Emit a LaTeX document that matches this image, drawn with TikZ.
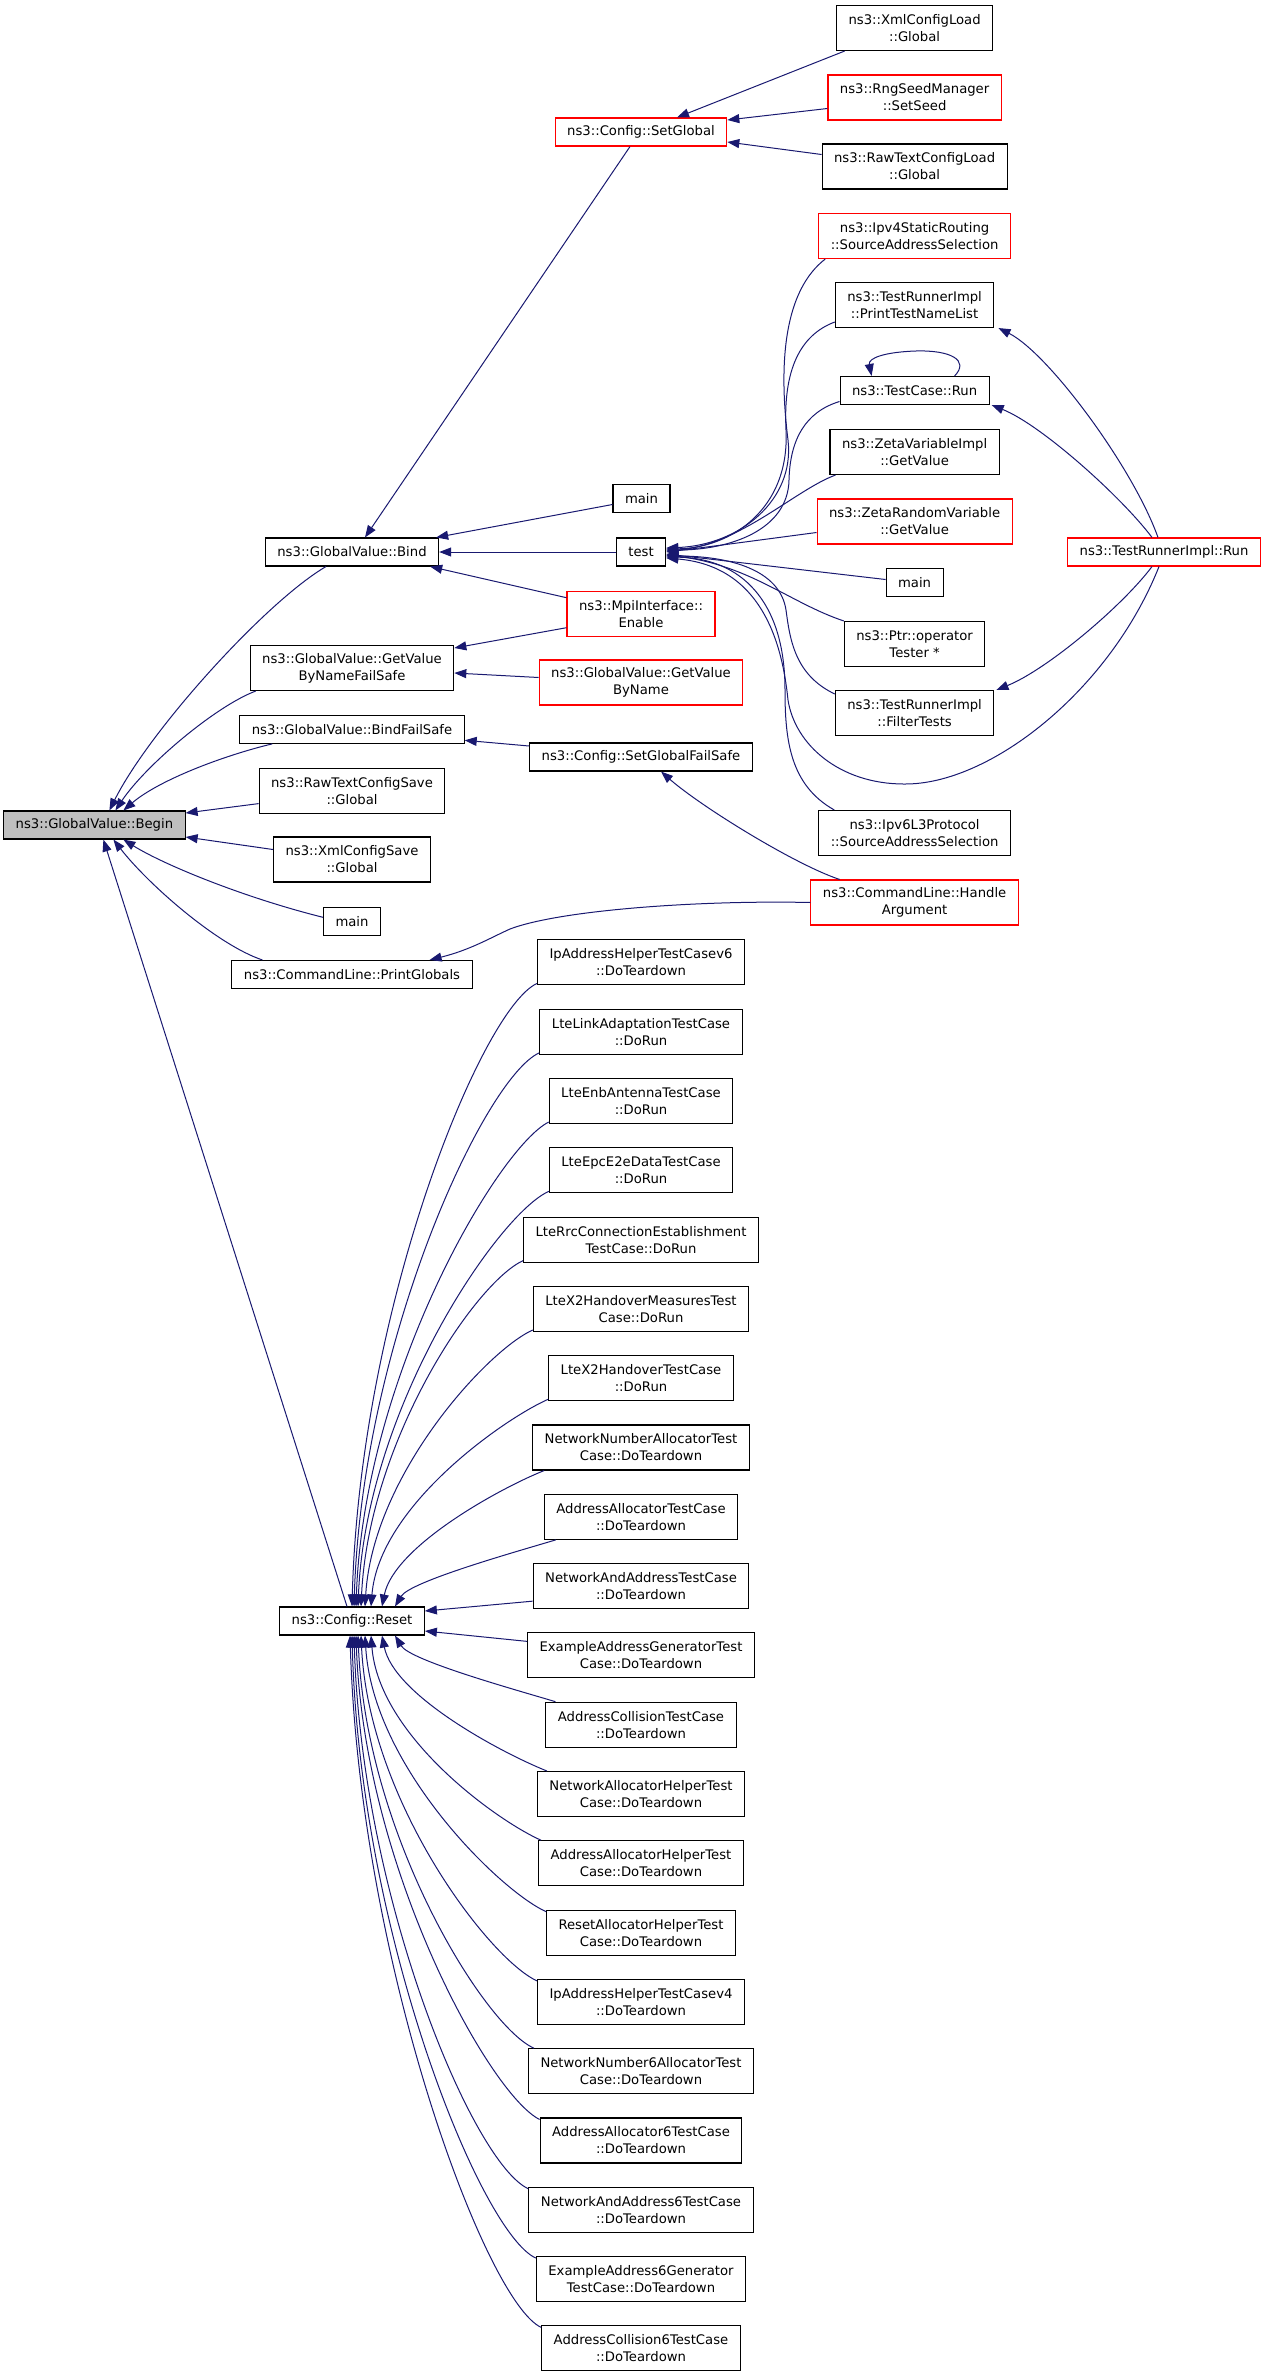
\documentclass[tikz,border=0pt]{standalone}
\usepackage{fontspec}
\setmainfont{DejaVu Sans}
\usetikzlibrary{arrows.meta}
\definecolor{callblue}{RGB}{25,25,112}
\definecolor{curgray}{RGB}{191,191,191}
\tikzset{
  fnbox/.style={draw=black,line width=1.1pt,fill=white,align=center,inner xsep=12pt,inner ysep=3pt,
    minimum height=28pt,font=\fontsize{13.2}{17}\selectfont},
  twoline/.style={minimum height=45pt},
  redbox/.style={fnbox,draw=red},
  curbox/.style={fnbox,fill=curgray},
  call/.style={draw=callblue,line width=1pt,-{Triangle[length=12pt,width=9pt]}}
}
\begin{document}
\begin{tikzpicture}[x=1pt,y=-1pt]
\useasboundingbox (0,0) rectangle (1267,2377);
% left column
\node[curbox] (begin) at (94.4,825) {ns3::GlobalValue::Begin};
\node[fnbox] (bind) at (352,552) {ns3::GlobalValue::Bind};
\node[fnbox,twoline] (gvbnfs) at (352,668) {ns3::GlobalValue::GetValue\\ByNameFailSafe};
\node[fnbox] (bindfs) at (352,729.3) {ns3::GlobalValue::BindFailSafe};
\node[fnbox,twoline] (rtsave) at (352,790.6) {ns3::RawTextConfigSave\\::Global};
\node[fnbox,twoline] (xmlsave) at (352,859.5) {ns3::XmlConfigSave\\::Global};
\node[fnbox] (mainA) at (352,921.3) {main};
\node[fnbox] (printg) at (352,974.5) {ns3::CommandLine::PrintGlobals};
\node[fnbox] (reset) at (352,1621) {ns3::Config::Reset};
% middle column
\node[redbox] (setglobal) at (641,132) {ns3::Config::SetGlobal};
\node[fnbox] (mainB) at (641.5,498.5) {main};
\node[fnbox] (test) at (641,552) {test};
\node[redbox,twoline] (mpi) at (641,613.7) {ns3::MpiInterface::\\Enable};
\node[redbox,twoline] (gvbn) at (641,682.5) {ns3::GlobalValue::GetValue\\ByName};
\node[fnbox] (setgfs) at (641,757) {ns3::Config::SetGlobalFailSafe};
\node[fnbox,twoline] (r0) at (641,962.4) {IpAddressHelperTestCasev6\\::DoTeardown};
\node[fnbox,twoline] (r1) at (641,1031.7) {LteLinkAdaptationTestCase\\::DoRun};
\node[fnbox,twoline] (r2) at (641,1101) {LteEnbAntennaTestCase\\::DoRun};
\node[fnbox,twoline] (r3) at (641,1170.3) {LteEpcE2eDataTestCase\\::DoRun};
\node[fnbox,twoline] (r4) at (641,1239.6) {LteRrcConnectionEstablishment\\TestCase::DoRun};
\node[fnbox,twoline] (r5) at (641,1308.9) {LteX2HandoverMeasuresTest\\Case::DoRun};
\node[fnbox,twoline] (r6) at (641,1378.2) {LteX2HandoverTestCase\\::DoRun};
\node[fnbox,twoline] (r7) at (641,1447.5) {NetworkNumberAllocatorTest\\Case::DoTeardown};
\node[fnbox,twoline] (r8) at (641,1516.8) {AddressAllocatorTestCase\\::DoTeardown};
\node[fnbox,twoline] (r9) at (641,1586.1) {NetworkAndAddressTestCase\\::DoTeardown};
\node[fnbox,twoline] (r10) at (641,1655.4) {ExampleAddressGeneratorTest\\Case::DoTeardown};
\node[fnbox,twoline] (r11) at (641,1724.7) {AddressCollisionTestCase\\::DoTeardown};
\node[fnbox,twoline] (r12) at (641,1794) {NetworkAllocatorHelperTest\\Case::DoTeardown};
\node[fnbox,twoline] (r13) at (641,1863.3) {AddressAllocatorHelperTest\\Case::DoTeardown};
\node[fnbox,twoline] (r14) at (641,1932.6) {ResetAllocatorHelperTest\\Case::DoTeardown};
\node[fnbox,twoline] (r15) at (641,2001.9) {IpAddressHelperTestCasev4\\::DoTeardown};
\node[fnbox,twoline] (r16) at (641,2071.2) {NetworkNumber6AllocatorTest\\Case::DoTeardown};
\node[fnbox,twoline] (r17) at (641,2140.5) {AddressAllocator6TestCase\\::DoTeardown};
\node[fnbox,twoline] (r18) at (641,2209.8) {NetworkAndAddress6TestCase\\::DoTeardown};
\node[fnbox,twoline] (r19) at (641,2279.1) {ExampleAddress6Generator\\TestCase::DoTeardown};
\node[fnbox,twoline] (r20) at (641,2348.4) {AddressCollision6TestCase\\::DoTeardown};
% right column
\node[fnbox,twoline] (xmlload) at (914.6,28) {ns3::XmlConfigLoad\\::Global};
\node[redbox,twoline] (rngseed) at (914.6,97.5) {ns3::RngSeedManager\\::SetSeed};
\node[fnbox,twoline] (rtload) at (914.6,166.5) {ns3::RawTextConfigLoad\\::Global};
\node[redbox,twoline] (ipv4) at (914.6,236) {ns3::Ipv4StaticRouting\\::SourceAddressSelection};
\node[fnbox,twoline] (printlist) at (914.6,305) {ns3::TestRunnerImpl\\::PrintTestNameList};
\node[fnbox] (tcrun) at (914.6,390.5) {ns3::TestCase::Run};
\node[fnbox,twoline] (zetavar) at (914.6,452) {ns3::ZetaVariableImpl\\::GetValue};
\node[redbox,twoline] (zetarand) at (914.6,521.5) {ns3::ZetaRandomVariable\\::GetValue};
\node[fnbox] (mainC) at (914.6,582.5) {main};
\node[fnbox,twoline] (ptr) at (914.6,644) {ns3::Ptr::operator\\Tester *};
\node[fnbox,twoline] (filter) at (914.6,713) {ns3::TestRunnerImpl\\::FilterTests};
\node[fnbox,twoline] (ipv6) at (914.6,833) {ns3::Ipv6L3Protocol\\::SourceAddressSelection};
\node[redbox,twoline] (handlearg) at (914.6,902.5) {ns3::CommandLine::Handle\\Argument};
\node[redbox] (trrun) at (1164,552) {ns3::TestRunnerImpl::Run};
% calls into Begin
\draw[call] ([xshift=-26pt]bind.south) .. controls +(-60,35) and +(40,-80) .. ([xshift=15pt]begin.north);
\draw[call] ([xshift=6pt]gvbnfs.south west) .. controls +(-40,15) and +(30,-45) .. ([xshift=21pt]begin.north);
\draw[call] ([xshift=33pt]bindfs.south west) .. controls +(-50,12) and +(35,-30) .. ([xshift=29pt]begin.north);
\draw[call] ([yshift=-13pt]rtsave.west) -- ([yshift=12pt]begin.east);
\draw[call] ([yshift=10pt]xmlsave.west) -- ([yshift=-12pt]begin.east);
\draw[call] ([yshift=4pt]mainA.west) .. controls +(-80,-20) and +(40,25) .. ([xshift=29pt]begin.south);
\draw[call] ([xshift=31pt]printg.north west) .. controls +(-45,-15) and +(35,45) .. ([xshift=19pt]begin.south);
\draw[call] ([xshift=-5pt]reset.north) -- ([xshift=9pt]begin.south);
% calls into Bind, GetValueByNameFailSafe, BindFailSafe
\draw[call] ([xshift=-11pt]setglobal.south) -- ([xshift=13pt]bind.north);
\draw[call] ([yshift=-6pt]mainB.west) -- ([xshift=-3pt]bind.north east);
\draw[call] (test.west) -- (bind.east);
\draw[call] ([yshift=16pt]mpi.west) -- ([xshift=-9pt]bind.south east);
\draw[call] ([yshift=-14pt]mpi.west) -- ([yshift=20pt]gvbnfs.east);
\draw[call] ([yshift=5pt]gvbn.west) -- ([yshift=-5pt]gvbnfs.east);
\draw[call] ([yshift=11pt]setgfs.west) -- ([yshift=-11pt]bindfs.east);
\draw[call] ([xshift=-75pt]handlearg.north) .. controls +(-45,-15) and +(40,35) .. ([xshift=20pt]setgfs.south);
\draw[call] (handlearg.west) .. controls (700,900) and (560,910) .. (510,929)
  .. controls (490,938) and (470,950) .. ([xshift=-43pt]printg.north east);
% calls into SetGlobal
\draw[call] ([xshift=-70pt]xmlload.south) -- ([xshift=36pt]setglobal.north);
\draw[call] ([yshift=-11pt]rngseed.west) -- ([yshift=12pt]setglobal.east);
\draw[call] ([yshift=12pt]rtload.west) -- ([yshift=-10pt]setglobal.east);
% calls into test
\draw[call] ([xshift=7pt]ipv4.south west) .. controls (785,290) and (778,360) .. (788,440)
  .. controls (795,500) and (740,545) .. ([yshift=4pt]test.east);
\draw[call] ([yshift=-17pt]printlist.west) .. controls (800,335) and (783,370) .. (786,430)
  .. controls (790,510) and (730,548) .. ([yshift=3pt]test.east);
\draw[call] ([yshift=-11pt]tcrun.west) .. controls (805,412) and (790,440) .. (789,480)
  .. controls (788,530) and (730,550) .. ([yshift=2pt]test.east);
\draw[call] ([xshift=6pt]zetavar.south west) .. controls (795,490) and (740,545) .. ([yshift=1pt]test.east);
\draw[call] ([yshift=-11pt]zetarand.west) .. controls (760,540) and (700,548) .. (test.east);
\draw[call] ([yshift=3pt]mainC.west) -- ([yshift=-2pt]test.east);
\draw[call] (ptr.north west) .. controls (790,603) and (750,565) .. ([yshift=-3pt]test.east);
\draw[call] ([yshift=19pt]filter.west) .. controls (795,675) and (790,640) .. (786,610)
  .. controls (780,570) and (730,556) .. ([yshift=-4pt]test.east);
\draw[call] ([xshift=16pt]ipv6.north west) .. controls (790,785) and (785,740) .. (785,690)
  .. controls (785,600) and (740,558) .. ([yshift=-5pt]test.east);
\draw[call] ([xshift=-5pt]trrun.south) .. controls (1110,690) and (990,785) .. (904,784)
  .. controls (840,784) and (795,745) .. (788,700)
  .. controls (782,640) and (760,566) .. ([yshift=-6pt]test.east);
% calls from TestRunnerImpl::Run
\draw[call] ([xshift=-6pt]trrun.north) .. controls +(-25,-70) and +(50,25) .. ([xshift=4pt]printlist.south east);
\draw[call] ([xshift=-12pt]trrun.north) .. controls +(-30,-40) and +(50,20) .. ([xshift=2pt]tcrun.south east);
\draw[call] ([xshift=-12pt]trrun.south) .. controls +(-30,40) and +(50,-20) .. ([xshift=2pt]filter.north east);
\draw[call] ([xshift=40pt]tcrun.north) .. controls (970,360) and (950,350) .. (916,351)
  .. controls (885,352) and (868,358) .. ([xshift=-43pt]tcrun.north);
% calls into Reset
\draw[call] ([yshift=2pt]r0.south west) .. controls +(-55,25) and +(8,-300) .. (reset.north);
\draw[call] ([yshift=2pt]r1.south west) .. controls +(-55,25) and +(8,-265) .. ([xshift=2pt]reset.north);
\draw[call] ([yshift=2pt]r2.south west) .. controls +(-50,25) and +(8,-232) .. ([xshift=4pt]reset.north);
\draw[call] ([yshift=2pt]r3.south west) .. controls +(-50,22) and +(8,-199) .. ([xshift=6pt]reset.north);
\draw[call] ([yshift=2pt]r4.south west) .. controls +(-48,22) and +(8,-166) .. ([xshift=9pt]reset.north);
\draw[call] ([yshift=2pt]r5.south west) .. controls +(-45,20) and +(8,-132) .. ([xshift=13pt]reset.north);
\draw[call] ([yshift=2pt]r6.south west) .. controls +(-45,20) and +(8,-100) .. ([xshift=19pt]reset.north);
\draw[call] ([xshift=12pt]r7.south west) .. controls +(-45,18) and +(12,-60) .. ([xshift=30pt]reset.north);
\draw[call] ([xshift=12pt]r8.south west) .. controls +(-40,12) and +(15,-25) .. ([xshift=43pt]reset.north);
\draw[call] ([yshift=8pt]r9.south west) -- ([yshift=10pt]reset.east);
\draw[call] ([yshift=-9pt]r10.north west) -- ([yshift=-10pt]reset.east);
\draw[call] ([xshift=10pt]r11.north west) .. controls +(-40,-12) and +(15,25) .. ([xshift=43pt]reset.south);
\draw[call] ([xshift=10pt]r12.north west) .. controls +(-45,-18) and +(12,60) .. ([xshift=30pt]reset.south);
\draw[call] ([xshift=3pt]r13.north west) .. controls +(-45,-20) and +(8,100) .. ([xshift=19pt]reset.south);
\draw[call] ([yshift=-2pt]r14.north west) .. controls +(-45,-20) and +(8,132) .. ([xshift=13pt]reset.south);
\draw[call] ([yshift=-2pt]r15.north west) .. controls +(-48,-22) and +(8,166) .. ([xshift=9pt]reset.south);
\draw[call] ([xshift=6pt]r16.north west) .. controls +(-50,-22) and +(8,199) .. ([xshift=6pt]reset.south);
\draw[call] ([yshift=-2pt]r17.north west) .. controls +(-50,-25) and +(8,232) .. ([xshift=4pt]reset.south);
\draw[call] ([yshift=-2pt]r18.north west) .. controls +(-55,-25) and +(8,265) .. ([xshift=2pt]reset.south);
\draw[call] ([yshift=-2pt]r19.north west) .. controls +(-55,-25) and +(8,300) .. (reset.south);
\draw[call] ([yshift=-2pt]r20.north west) .. controls +(-55,-25) and +(10,330) .. ([xshift=-2pt]reset.south);
\end{tikzpicture}
\end{document}
